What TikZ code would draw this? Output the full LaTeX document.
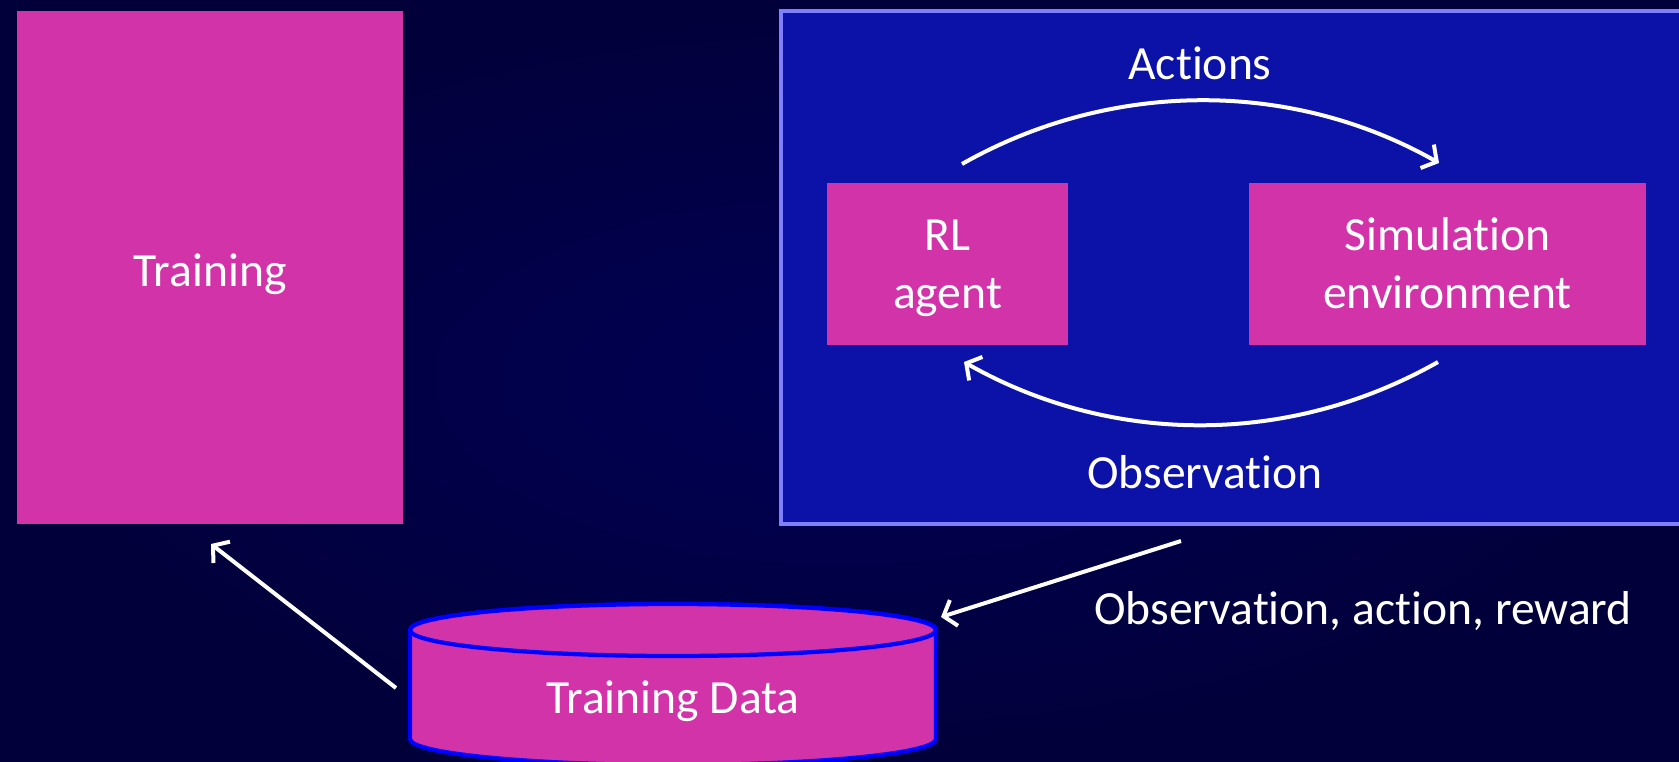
\documentclass[tikz,border=0pt]{standalone}
\usepackage{fontspec}
\setmainfont{Carlito}[Ligatures=NoCommon]
\usetikzlibrary{arrows.meta}

\definecolor{bgcore}{RGB}{0,0,84}
\definecolor{bgrim}{RGB}{2,0,58}
\definecolor{panelblue}{RGB}{12,18,168}
\definecolor{panelrim}{RGB}{128,128,255}
\definecolor{boxpink}{RGB}{210,51,168}
\definecolor{drumrim}{RGB}{0,0,255}

\tikzset{
  caption/.style={text=white, inner sep=0pt, align=center,
                  font=\fontsize{47.6}{58}\selectfont},
  pinkbox/.style={fill=boxpink, draw=none, inner sep=0pt, anchor=north west},
  drum/.style={fill=boxpink, draw=drumrim, line width=4.25pt},
  flow/.style={draw=white, line width=4pt,
               -{Straight Barb[length=11pt, width=27pt]}},
}

\begin{document}
\begin{tikzpicture}[x=1pt, y=-1pt]
  \useasboundingbox (0,0) rectangle (1679,761);
  % backdrop
  \shade[inner color=bgcore, outer color=bgrim] (0,0) rectangle (1679,761);

  % simulation panel (runs off the right edge)
  \draw[panelrim, line width=3.75pt, fill=panelblue] (781,11) rectangle (1720,524);

  % boxes
  \node[pinkbox, minimum width=386pt, minimum height=513pt] (training) at (17,11) {};
  \node[pinkbox, minimum width=241pt, minimum height=162pt] (agent) at (827,183) {};
  \node[pinkbox, minimum width=397pt, minimum height=162pt] (sim) at (1249,183) {};

  % data store drum
  \filldraw[drum] (410,630) -- (410,739)
      arc[start angle=180, end angle=0, x radius=263, y radius=26]
      -- (936,630)
      arc[start angle=0, end angle=-180, x radius=263, y radius=26] -- cycle;
  \filldraw[drum] (673,630) ellipse[x radius=263, y radius=26];

  % captions (base anchor of a two-line caption sits on its last line)
  \node[caption, anchor=base] (trainingtxt) at (210,286) {Training};
  \node[caption, anchor=base] (agenttxt) at (947.5,308) {RL\\agent};
  \node[caption, anchor=base] (simtxt) at (1447.5,308) {Simulation\\environment};
  \node[caption, anchor=base] (datatxt) at (673,713) {Training Data};
  \node[caption, anchor=base] (actionstxt) at (1200,79) {Actions};
  \node[caption, anchor=base] (obstxt) at (1205,488) {Observation};
  \node[caption, anchor=base] (oartxt) at (1363,624) {Observation, action, reward};

  % connector end points
  \coordinate (actfrom) at (962,164);
  \coordinate (actto) at (1439,163);
  \coordinate (obsfrom) at (1438,362);
  \coordinate (obsto) at (964,362);
  \coordinate (logfrom) at (1181,541);
  \coordinate (logto) at (941,617);
  \coordinate (feedfrom) at (396,688);
  \coordinate (feedto) at (211,544);

  % connectors
  \draw[flow] (actfrom) .. controls +(148,-84) and +(-148,-84) .. (actto);
  \draw[flow] (obsfrom) .. controls +(-148,84) and +(148,84) .. (obsto);
  \draw[flow] (logfrom) -- (logto);
  \draw[flow] (feedfrom) -- (feedto);
\end{tikzpicture}
\end{document}
